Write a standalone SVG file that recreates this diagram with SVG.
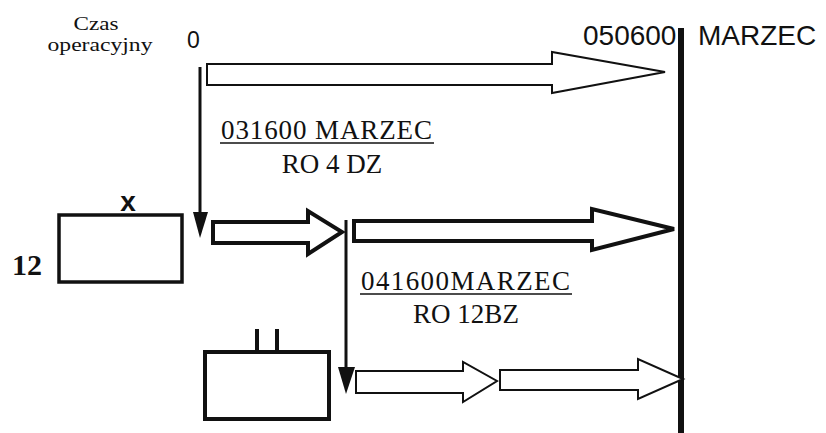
<svg xmlns="http://www.w3.org/2000/svg" width="826" height="433" viewBox="0 0 826 433">
<defs>
<style>
.serif{font-family:"Liberation Serif","Times New Roman",serif;fill:#111}
.sans{font-family:"Liberation Sans",Arial,sans-serif;fill:#111}
.arrow{fill:#fff;stroke:#111;stroke-linejoin:miter}
.line{stroke:#111;fill:none}
.box{fill:#fff;stroke:#111}
</style>
</defs>
<rect width="826" height="433" fill="#fff"/>
<g id="labels">
<text class="serif" x="96" y="30" font-size="18" text-anchor="middle" textLength="45" lengthAdjust="spacingAndGlyphs">Czas</text>
<text class="serif" x="100" y="51" font-size="18" text-anchor="middle" textLength="105" lengthAdjust="spacingAndGlyphs">operacyjny</text>
<text class="sans" x="187" y="48" font-size="23">0</text>
<text class="sans" x="583" y="45" font-size="28">050600</text>
<text class="sans" x="698" y="45" font-size="28">MARZEC</text>
<text class="serif" x="221" y="139" font-size="27" textLength="211" lengthAdjust="spacing">031600 MARZEC</text>
<line class="line" x1="220" y1="143" x2="434" y2="143" stroke-width="1.5"/>
<text class="serif" x="332" y="173" font-size="27" text-anchor="middle">RO 4 DZ</text>
<text class="serif" x="361" y="290" font-size="27" textLength="209" lengthAdjust="spacing">041600MARZEC</text>
<text class="serif" x="466" y="323" font-size="27" text-anchor="middle">RO 12BZ</text>
<line class="line" x1="360" y1="294" x2="572" y2="294" stroke-width="1.5"/>
</g>
<g id="timeline">
<line class="line" x1="681" y1="28" x2="681" y2="433" stroke-width="6"/>
</g>
<g id="node-12">
<rect class="box" x="59" y="215" width="123" height="67" stroke-width="3.5"/>
<text class="sans" x="128" y="211" font-size="28" font-weight="bold" text-anchor="middle">x</text>
<text class="serif" x="12" y="275" font-size="30" font-weight="bold">12</text>
</g>
<g id="node-bottom">
<rect class="box" x="205" y="352" width="124" height="67" stroke-width="4"/>
<line class="line" x1="257" y1="329" x2="257" y2="352" stroke-width="4"/>
<line class="line" x1="277" y1="329" x2="277" y2="352" stroke-width="4"/>
</g>
<g id="connectors">
<line class="line" x1="200" y1="67" x2="200" y2="214" stroke-width="3"/>
<polygon points="193,212 208,212 200,238" fill="#111"/>
<line class="line" x1="346" y1="220" x2="346" y2="368" stroke-width="3"/>
<polygon points="338,367 355,367 346,394" fill="#111"/>
<polygon class="arrow" stroke-width="2" points="207,64 552,64 552,52 665,72 552,93 552,85 207,85"/>
<polygon class="arrow" stroke-width="4" points="213,222 308,222 308,211 342,232 308,254 308,243 213,243"/>
<polygon class="arrow" stroke-width="4" points="354,221 592,221 592,209 674,229 592,250 592,241 354,241"/>
<polygon class="arrow" stroke-width="2" points="356,371 463,371 463,362 497,381 463,402 463,393 356,393"/>
<polygon class="arrow" stroke-width="2" points="500,370 638,370 638,359 683,379 638,399 638,390 500,390"/>
</g>
</svg>
